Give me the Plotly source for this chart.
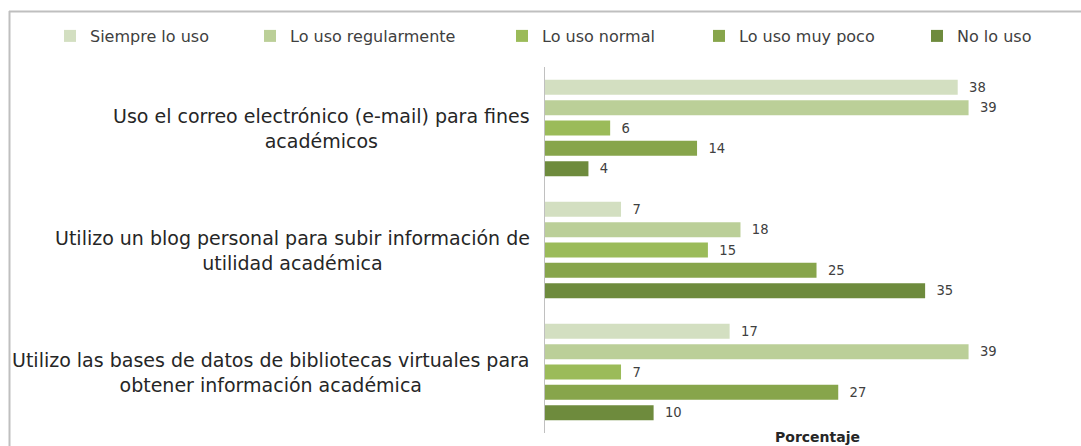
import plotly.graph_objects as go

categories = [
    "Uso el correo electrónico (e-mail) para fines<br>académicos",
    "Utilizo un blog personal para subir información de<br>utilidad académica",
    "Utilizo las bases de datos de bibliotecas virtuales para<br>obtener información académica",
]
series_names = ["Siempre lo uso", "Lo uso regularmente", "Lo uso normal", "Lo uso muy poco", "No lo uso"]
siempre = [38, 7, 17]
regularmente = [39, 18, 39]
normal = [6, 15, 7]
muy_poco = [14, 25, 27]
no_uso = [4, 35, 10]
series_values = [siempre, regularmente, normal, muy_poco, no_uso]
colors = ["#d3dfc1", "#bbcf98", "#9bbb59", "#87a54b", "#6e8b3d"]

W, H = 1081, 446
L, R, T, B = 545, 6, 67, 13
PW, PH = W - L - R, H - T - B

legend_x_px = [50, 250, 502, 699, 917]
legend_ids = ["legend", "legend2", "legend3", "legend4", "legend5"]

fig = go.Figure()
for name, vals, col, lid in zip(series_names, series_values, colors, legend_ids):
    fig.add_trace(go.Bar(
        y=categories, x=vals, name=name, orientation="h", legend=lid,
        marker=dict(color=col, line=dict(width=0)),
        text=vals, texttemplate="  %{x}", textposition="outside",
        textfont=dict(family="DejaVu Sans", size=14, color="#404040"),
        cliponaxis=False, hoverinfo="skip",
    ))

legend_common = dict(orientation="h", xanchor="left", yanchor="middle",
                     xref="container", yref="container", y=1 - 36 / H,
                     font=dict(family="DejaVu Sans", size=16, color="#404040"),
                     itemwidth=30, bgcolor="rgba(0,0,0,0)", borderwidth=0)
legends = {lid: dict(legend_common, x=px / W) for lid, px in zip(legend_ids, legend_x_px)}

fig.update_layout(
    width=W, height=H,
    margin=dict(l=L, r=R, t=T, b=B, autoexpand=False),
    paper_bgcolor="white", plot_bgcolor="white",
    barmode="group", bargap=1/6, bargroupgap=0.26,
    showlegend=True,
    xaxis=dict(range=[0, 48.8], showgrid=False, zeroline=False, showticklabels=False,
               showline=False, ticks=""),
    yaxis=dict(autorange="reversed", showline=True, linecolor="#c0c0c0", linewidth=1,
               showticklabels=False, ticks="", showgrid=False),
    **legends,
)

for c in categories:
    fig.add_annotation(x=0, xref="paper", xanchor="right", xshift=-13, y=c, yref="y",
                       text=c, showarrow=False, align="center",
                       font=dict(family="DejaVu Sans", size=19, color="#262626"))

fig.add_annotation(text="<b>Porcentaje</b>", x=(817 - L) / PW, xref="paper",
                   y=-4 / PH, yref="paper", yanchor="middle", showarrow=False,
                   font=dict(family="DejaVu Sans", size=14, color="#262626"))

fig.add_shape(type="line", xref="paper", yref="paper",
              x0=-(L - 9) / PW, x1=1 + R / PW,
              y0=1 + (T - 11.5) / PH, y1=1 + (T - 11.5) / PH,
              line=dict(color="#bfbfbf", width=2))
fig.add_shape(type="line", xref="paper", yref="paper",
              x0=-(L - 9.5) / PW, x1=-(L - 9.5) / PW,
              y0=1 + (T - 11) / PH, y1=-B / PH,
              line=dict(color="#bfbfbf", width=2))

fig.write_html("out.html", config={"displayModeBar": False},
               post_script="document.body.style.margin='0';")
